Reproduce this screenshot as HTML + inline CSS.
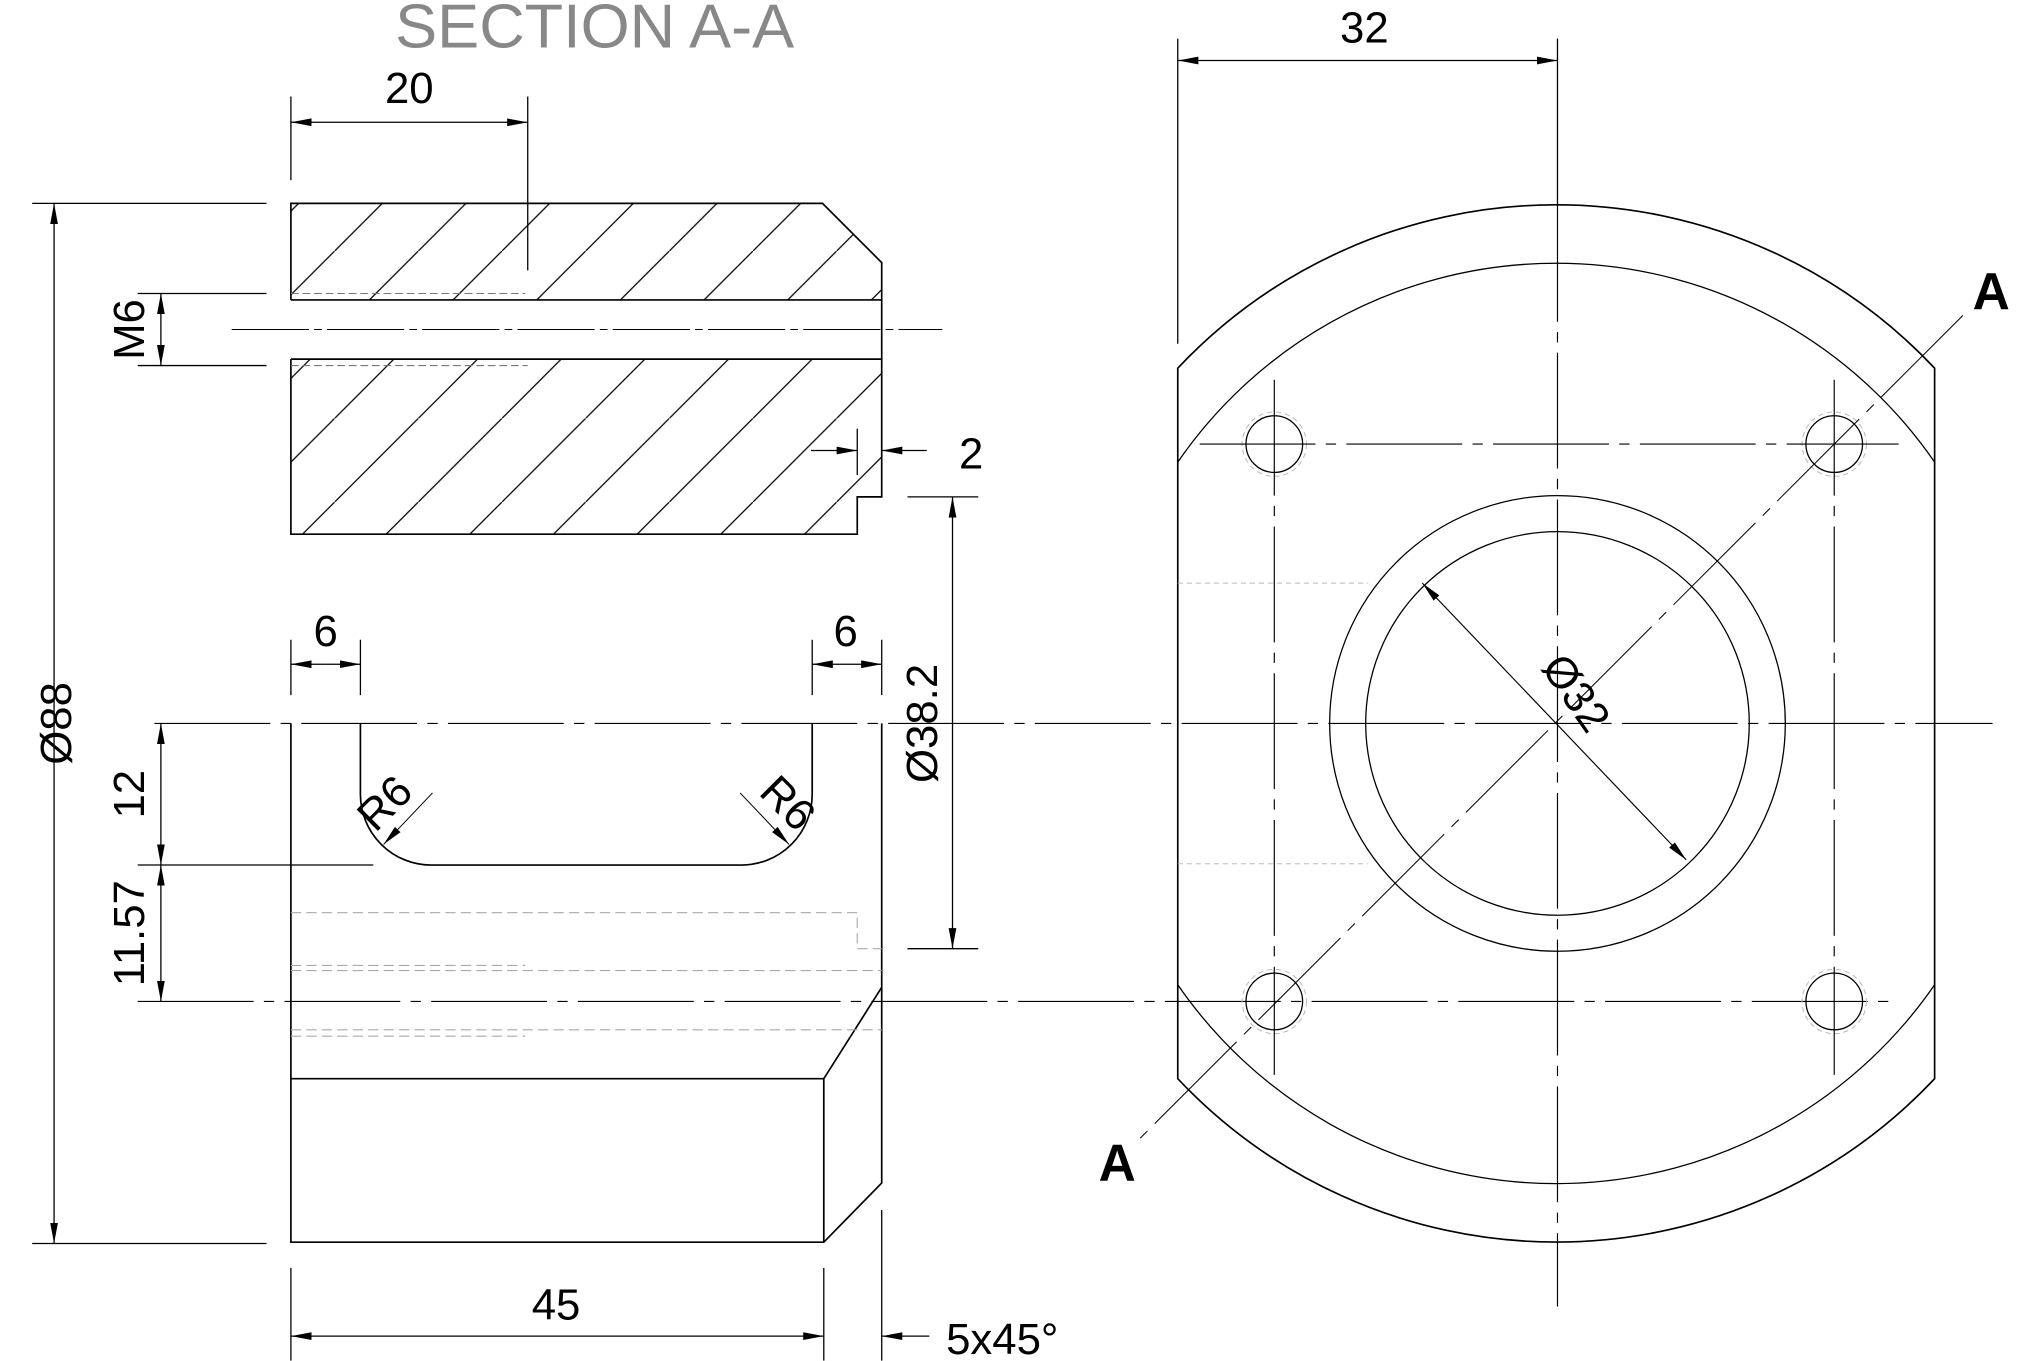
<!DOCTYPE html>
<html><head><meta charset="utf-8"><style>html,body{margin:0;padding:0;background:#fff}svg{display:block}</style></head>
<body>
<svg width="2017" height="1361" viewBox="0 0 1567 1057.3" preserveAspectRatio="none" xmlns="http://www.w3.org/2000/svg" font-family="Liberation Sans, sans-serif">
<defs>
<marker id="ar" viewBox="0 0 16 8" refX="16" refY="4" markerWidth="16" markerHeight="8" markerUnits="userSpaceOnUse" orient="auto-start-reverse"><path d="M0,1 L16,4 L0,7 Z" fill="#000"/></marker>
<pattern id="hatch" patternUnits="userSpaceOnUse" width="65" height="65" x="0" y="0"><line x1="0" y1="65" x2="65" y2="0" stroke="#000" stroke-width="1"/></pattern>
</defs>
<g fill="none" stroke="#000" stroke-width="1.3">
<!-- title -->
<text x="307" y="37" font-size="48" fill="#888" stroke="none" textLength="310" lengthAdjust="spacingAndGlyphs">SECTION A-A</text>

<!-- top section -->
<polygon points="226,158 639,158 685,204 685,233 226,233" fill="url(#hatch)" stroke="none"/>
<polygon points="226,279 685,279 685,386 666,386 666,415 226,415" fill="url(#hatch)" stroke="none"/>
<polyline points="226,233 226,158 639,158 685,204 685,386 666,386 666,415 226,415 226,279"/>
<line x1="226" y1="233" x2="685" y2="233"/>
<line x1="226" y1="279" x2="685" y2="279"/>
<line x1="180" y1="256" x2="732" y2="256" stroke-width="0.8" stroke-dasharray="60,4,6,4"/>
<line x1="226" y1="228" x2="408" y2="228" stroke="#777" stroke-width="0.8" stroke-dasharray="6,3"/>
<line x1="226" y1="284" x2="410" y2="284" stroke="#777" stroke-width="0.8" stroke-dasharray="6,3"/>

<!-- 20 dim -->
<line x1="226" y1="75" x2="226" y2="140" stroke-width="1"/>
<line x1="410" y1="75" x2="410" y2="210" stroke-width="1"/>
<line x1="226" y1="95" x2="410" y2="95" stroke-width="1" marker-start="url(#ar)" marker-end="url(#ar)"/>
<!-- M6 dim -->
<line x1="107" y1="228" x2="207" y2="228" stroke-width="1"/>
<line x1="107" y1="284" x2="207" y2="284" stroke-width="1"/>
<line x1="125" y1="228" x2="125" y2="284" stroke-width="1" marker-start="url(#ar)" marker-end="url(#ar)"/>
<!-- 2 dim -->
<line x1="666" y1="333" x2="666" y2="369" stroke-width="1"/>
<line x1="630" y1="350" x2="666" y2="350" stroke-width="1" marker-end="url(#ar)"/>
<line x1="720" y1="350" x2="685" y2="350" stroke-width="1" marker-end="url(#ar)"/>
<!-- Ø38.2 -->
<line x1="705" y1="386" x2="760" y2="386" stroke-width="1"/>
<line x1="705" y1="737" x2="760" y2="737" stroke-width="1"/>
<line x1="740" y1="386" x2="740" y2="737" stroke-width="1" marker-start="url(#ar)" marker-end="url(#ar)"/>
<!-- Ø88 -->
<line x1="25" y1="158" x2="207" y2="158" stroke-width="1"/>
<line x1="25" y1="966" x2="207" y2="966" stroke-width="1"/>
<line x1="42" y1="158" x2="42" y2="966" stroke-width="1" marker-start="url(#ar)" marker-end="url(#ar)"/>

<!-- lower view -->
<path d="M226,562 L226,965 L640,965 L685,919 L685,562"/>
<path d="M280,562 L280,617 A55,55 0 0 0 335,672 L576,672 A55,55 0 0 0 631,617 L631,562"/>
<line x1="226" y1="838" x2="640" y2="838"/>
<line x1="640" y1="838" x2="640" y2="965"/>
<line x1="640" y1="838" x2="685" y2="767"/>
<g stroke="#aaa" stroke-width="0.9" stroke-dasharray="8,4">
<polyline points="226,709 666,709 666,737 685,737"/>
<line x1="226" y1="750" x2="408" y2="750"/>
<line x1="226" y1="754" x2="685" y2="754"/>
<line x1="226" y1="800" x2="685" y2="800"/>
<line x1="226" y1="805" x2="408" y2="805"/>
</g>
<line x1="120" y1="562" x2="1548" y2="562" stroke-width="0.9" stroke-dasharray="90,8,8,8"/>
<line x1="107" y1="778" x2="1475" y2="778" stroke-width="0.9" stroke-dasharray="90,8,8,8"/>
<!-- 12 / 11.57 -->
<line x1="107" y1="672" x2="290" y2="672" stroke-width="1"/>
<line x1="125" y1="562" x2="125" y2="672" stroke-width="1" marker-start="url(#ar)" marker-end="url(#ar)"/>
<line x1="125" y1="672" x2="125" y2="778" stroke-width="1" marker-start="url(#ar)" marker-end="url(#ar)"/>
<!-- 6 dims -->
<line x1="226" y1="497" x2="226" y2="540" stroke-width="1"/>
<line x1="280" y1="497" x2="280" y2="540" stroke-width="1"/>
<line x1="253" y1="516" x2="226" y2="516" stroke-width="1" marker-end="url(#ar)"/>
<line x1="253" y1="516" x2="280" y2="516" stroke-width="1" marker-end="url(#ar)"/>
<line x1="631" y1="497" x2="631" y2="540" stroke-width="1"/>
<line x1="685" y1="497" x2="685" y2="540" stroke-width="1"/>
<line x1="658" y1="516" x2="631" y2="516" stroke-width="1" marker-end="url(#ar)"/>
<line x1="658" y1="516" x2="685" y2="516" stroke-width="1" marker-end="url(#ar)"/>
<!-- R6 leaders -->
<line x1="336" y1="616" x2="298" y2="656" stroke-width="0.8" marker-end="url(#ar)"/>
<line x1="575" y1="616" x2="613" y2="656" stroke-width="0.8" marker-end="url(#ar)"/>
<!-- 45 & 5x45 -->
<line x1="226" y1="985" x2="226" y2="1057" stroke-width="1"/>
<line x1="640" y1="985" x2="640" y2="1057" stroke-width="1"/>
<line x1="226" y1="1038" x2="640" y2="1038" stroke-width="1" marker-start="url(#ar)" marker-end="url(#ar)"/>
<line x1="685" y1="940" x2="685" y2="1057" stroke-width="1"/>
<line x1="722" y1="1038" x2="685" y2="1038" stroke-width="1" marker-end="url(#ar)"/>

<!-- right view -->
<path d="M915,286 A404,404 0 0 1 1503,286 L1503,838 A404,404 0 0 1 915,838 Z"/>
<path d="M915,359 A357,357 0 0 1 1503,359" stroke-width="1"/>
<path d="M915,765 A357,357 0 0 0 1503,765" stroke-width="1"/>
<circle cx="1210" cy="562" r="177" stroke-width="1"/>
<circle cx="1210" cy="562" r="149" stroke-width="1"/>
<g stroke-width="1">
<circle cx="990" cy="345" r="22"/><circle cx="1425" cy="345" r="22"/>
<circle cx="990" cy="778" r="22"/><circle cx="1425" cy="778" r="22"/>
</g>
<g stroke="#bbb" stroke-width="0.8" stroke-dasharray="4,3">
<circle cx="990" cy="345" r="25"/><circle cx="1425" cy="345" r="25"/>
<circle cx="990" cy="778" r="25"/><circle cx="1425" cy="778" r="25"/>
<line x1="915" y1="453" x2="1063" y2="453"/>
<line x1="915" y1="671" x2="1063" y2="671"/>
</g>
<g stroke-width="0.9" stroke-dasharray="90,8,8,8">
<line x1="932" y1="345" x2="1475" y2="345"/>
<line x1="990" y1="295" x2="990" y2="835"/>
<line x1="1425" y1="295" x2="1425" y2="835"/>
<line x1="1210" y1="160" x2="1210" y2="1015"/>
<line x1="1525" y1="245" x2="885" y2="885" stroke-width="0.8"/>
</g>
<!-- 32 dim -->
<line x1="915" y1="30" x2="915" y2="267" stroke-width="1"/>
<line x1="1210" y1="30" x2="1210" y2="160" stroke-width="1"/>
<line x1="915" y1="47" x2="1210" y2="47" stroke-width="1" marker-start="url(#ar)" marker-end="url(#ar)"/>
<!-- Ø32 -->
<line x1="1105" y1="453" x2="1310" y2="668" stroke-width="0.9" marker-start="url(#ar)" marker-end="url(#ar)"/>
</g>

<g fill="#000" font-size="34">
<text x="318" y="80" text-anchor="middle">20</text>
<text x="1060" y="33" text-anchor="middle">32</text>
<text x="253" y="502" text-anchor="middle">6</text>
<text x="657" y="502" text-anchor="middle">6</text>
<text x="432" y="1025" text-anchor="middle">45</text>
<text x="735" y="1052">5x45°</text>
<text x="745" y="364" >2</text>
<text transform="translate(112,256) rotate(-90)" text-anchor="middle">M6</text>
<text transform="translate(55,562) rotate(-90)" text-anchor="middle">Ø88</text>
<text transform="translate(112,617) rotate(-90)" text-anchor="middle">12</text>
<text transform="translate(112,725) rotate(-90)" text-anchor="middle">11.57</text>
<text transform="translate(728,562) rotate(-90)" text-anchor="middle">Ø38.2</text>
<text transform="translate(307,632) rotate(-45)" text-anchor="middle">R6</text>
<text transform="translate(604,632) rotate(45)" text-anchor="middle">R6</text>
<text transform="translate(1215,545) rotate(55)" text-anchor="middle">Ø32</text>
<text x="1547" y="240" font-size="40" font-weight="bold" text-anchor="middle">A</text>
<text x="868" y="917" font-size="40" font-weight="bold" text-anchor="middle">A</text>
</g>
</svg>
</body></html>
